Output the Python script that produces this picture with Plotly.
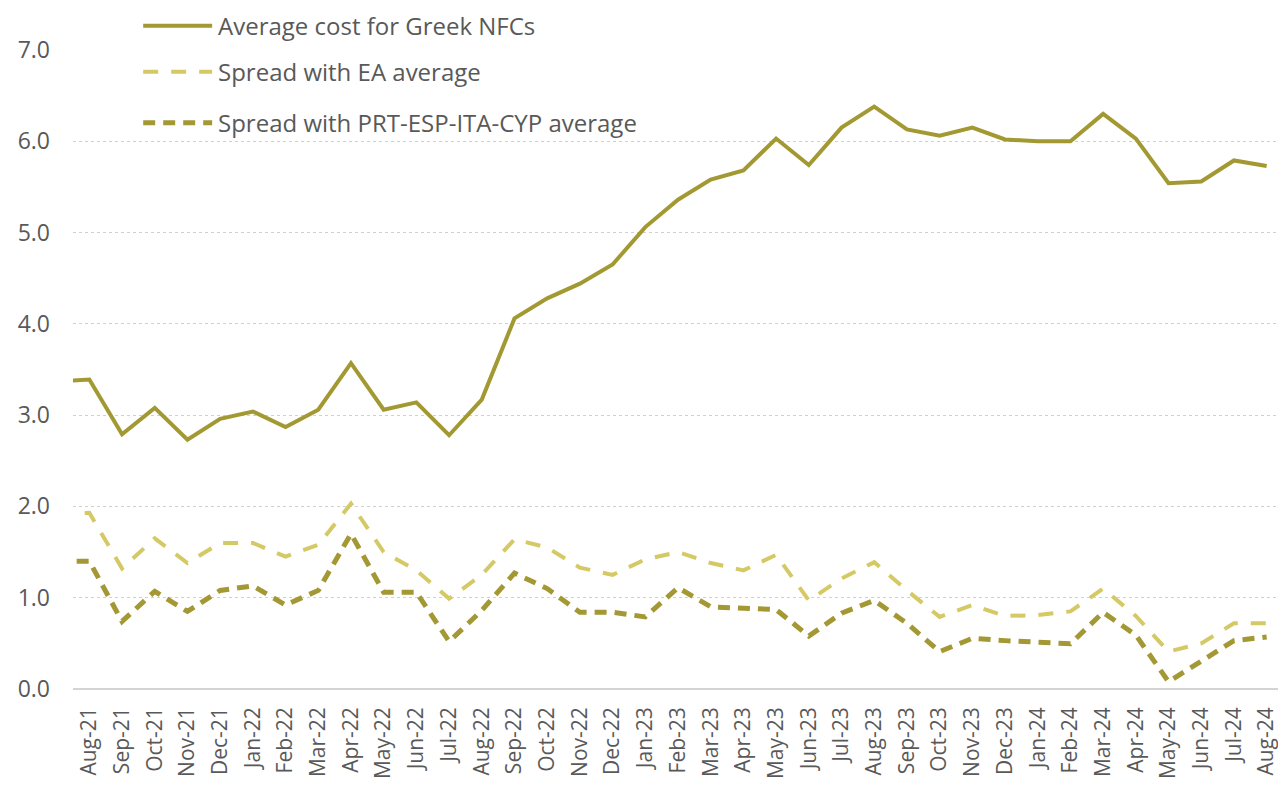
import plotly.graph_objects as go

# monthly data, Jul-21 .. Aug-24 (Jul-21 sits just outside the visible range)
months = ["Jul-21", "Aug-21", "Sep-21", "Oct-21", "Nov-21", "Dec-21",
          "Jan-22", "Feb-22", "Mar-22", "Apr-22", "May-22", "Jun-22",
          "Jul-22", "Aug-22", "Sep-22", "Oct-22", "Nov-22", "Dec-22",
          "Jan-23", "Feb-23", "Mar-23", "Apr-23", "May-23", "Jun-23",
          "Jul-23", "Aug-23", "Sep-23", "Oct-23", "Nov-23", "Dec-23",
          "Jan-24", "Feb-24", "Mar-24", "Apr-24", "May-24", "Jun-24",
          "Jul-24", "Aug-24"]

avg_cost_greek = [3.37, 3.39, 2.79, 3.08, 2.73, 2.96, 3.04, 2.87, 3.06, 3.57,
                  3.06, 3.14, 2.78, 3.17, 4.06, 4.28, 4.44, 4.65, 5.06, 5.36,
                  5.58, 5.68, 6.03, 5.74, 6.15, 6.38, 6.13, 6.06, 6.15, 6.02,
                  6.00, 6.00, 6.30, 6.03, 5.54, 5.56, 5.79, 5.73]

spread_ea = [1.92, 1.93, 1.32, 1.65, 1.38, 1.60, 1.60, 1.45, 1.58, 2.03,
             1.50, 1.30, 0.99, 1.25, 1.64, 1.55, 1.33, 1.25, 1.42, 1.50,
             1.38, 1.30, 1.47, 0.97, 1.21, 1.39, 1.08, 0.79, 0.92, 0.80,
             0.81, 0.85, 1.10, 0.80, 0.41, 0.50, 0.72, 0.72]

spread_periph = [1.40, 1.40, 0.74, 1.07, 0.85, 1.08, 1.13, 0.92, 1.08, 1.70,
                 1.06, 1.06, 0.52, 0.86, 1.27, 1.10, 0.84, 0.84, 0.79, 1.11,
                 0.90, 0.88, 0.87, 0.58, 0.83, 0.97, 0.72, 0.41, 0.555, 0.53,
                 0.51, 0.495, 0.84, 0.59, 0.08, 0.30, 0.53, 0.57]

y_ticks = [0, 1, 2, 3, 4, 5, 6, 7]

series_names = ["Average cost for Greek NFCs", "Spread with EA average",
                "Spread with PRT-ESP-ITA-CYP average"]

OLIVE = "#A39933"
LIGHT = "#D5C965"
DARK = "#A49834"
TXT = "#595959"
FONT = "Open Sans"

styles = [
    dict(color=OLIVE, width=4, dash="solid"),
    dict(color=LIGHT, width=4, dash="15px,13px"),
    dict(color=DARK, width=5, dash="12px,8px"),
]

x = list(range(len(months)))

fig = go.Figure()
for name, vals, st in zip(series_names, [avg_cost_greek, spread_ea, spread_periph], styles):
    fig.add_trace(go.Scatter(x=x, y=vals, mode="lines", name=name,
                             line=st, showlegend=False))

# hand-drawn legend (long line samples like the original)
legend_y = [1.038, 0.966, 0.886]
for name, st, ly in zip(series_names, styles, legend_y):
    fig.add_shape(type="line", xref="paper", yref="paper",
                  x0=0.058, x1=0.115, y0=ly, y1=ly, line=st)
    fig.add_annotation(xref="paper", yref="paper", x=0.118, y=ly,
                       text=name, showarrow=False, xanchor="left",
                       yanchor="middle", font=dict(family=FONT, size=24, color=TXT))

# page body adds an 8px offset, margins compensate for it
fig.update_layout(
    width=1286, height=786,
    margin=dict(l=65, r=11, t=42, b=105),
    paper_bgcolor="white", plot_bgcolor="white",
    font=dict(family=FONT, color=TXT),
)
fig.update_xaxes(
    range=[0.5, len(months) - 0.5],
    tickmode="array", tickvals=x, ticktext=months,
    tickangle=-90, tickfont=dict(size=21, color=TXT),
    showgrid=False, zeroline=False, showline=False,
    ticks="", ticklabelstandoff=13, automargin=False,
)
fig.update_yaxes(
    range=[0, 7], tickmode="array", tickvals=y_ticks,
    ticktext=[f"{v:.1f}" for v in y_ticks],
    tickfont=dict(size=23, color=TXT),
    showgrid=True, gridcolor="#D0D0D0", griddash="dot", gridwidth=1,
    zeroline=True, zerolinecolor="#D4D4D4", zerolinewidth=2,
    showline=False, ticks="", ticklabelstandoff=22, automargin=False,
)

fig.write_html("out.html")
